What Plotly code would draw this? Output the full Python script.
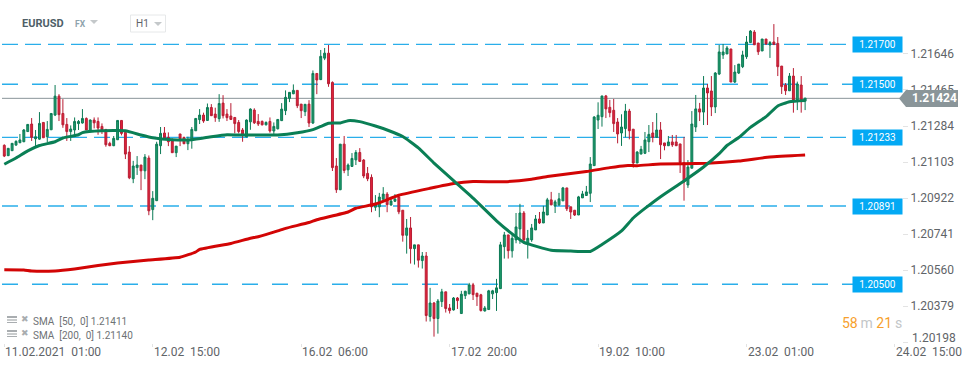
import plotly.graph_objects as go

opens = [1.21187,1.21135,1.21160,1.21188,1.21200,1.21205,1.21256,1.21294,1.21220,1.21218,
1.21302,1.21230,1.21265,1.21339,1.21434,1.21347,1.21292,1.21256,1.21264,1.21296,
1.21299,1.21322,1.21256,1.21314,1.21307,1.21282,1.21267,1.21197,1.21185,1.21215,
1.21312,1.21252,1.21153,1.21019,1.21075,1.21088,1.21059,1.21123,1.20864,1.20909,
1.21185,1.21249,1.21227,1.21209,1.21150,1.21244,1.21227,1.21195,1.21212,1.21260,
1.21316,1.21339,1.21312,1.21377,1.21344,1.21321,1.21399,1.21344,1.21334,1.21327,
1.21302,1.21264,1.21230,1.21305,1.21364,1.21307,1.21307,1.21290,1.21307,1.21259,
1.21270,1.21311,1.21361,1.21423,1.21446,1.21463,1.21394,1.21356,1.21394,1.21299,
1.21548,1.21517,1.21625,1.21650,1.21503,1.21083,1.20964,1.21193,1.21064,1.21081,
1.21114,1.21151,1.21113,1.21046,1.21026,1.20876,1.20878,1.20916,1.20942,1.20887,
1.20906,1.20927,1.20861,1.20735,1.20772,1.20668,1.20687,1.20608,1.20631,1.20327,
1.20395,1.20317,1.20402,1.20451,1.20370,1.20360,1.20420,1.20342,1.20432,1.20441,
1.20486,1.20444,1.20436,1.20355,1.20362,1.20441,1.20447,1.20467,1.20678,1.20737,
1.20657,1.20712,1.20767,1.20847,1.20692,1.20712,1.20762,1.20817,1.20797,1.20837,
1.20913,1.20883,1.20888,1.20908,1.20973,1.20878,1.20861,1.20837,1.20923,1.20935,
1.20946,1.21085,1.21314,1.21331,1.21435,1.21378,1.21363,1.21304,1.21249,1.21271,
1.21359,1.21268,1.21098,1.21143,1.21147,1.21205,1.21249,1.21227,1.21264,1.21199,
1.21185,1.21204,1.21204,1.21194,1.21100,1.20988,1.21072,1.21279,1.21370,1.21354,
1.21475,1.21460,1.21380,1.21545,1.21641,1.21646,1.21671,1.21505,1.21550,1.21582,
1.21632,1.21703,1.21756,1.21701,1.21661,1.21721,1.21691,1.21706,1.21699,1.21585,
1.21490,1.21461,1.21535,1.21415,1.21490,1.21409]

highs = [1.21192,1.21172,1.21197,1.21212,1.21244,1.21269,1.21294,1.21324,1.21264,1.21354,
1.21302,1.21309,1.21347,1.21490,1.21444,1.21419,1.21324,1.21287,1.21327,1.21314,
1.21369,1.21327,1.21317,1.21327,1.21327,1.21297,1.21267,1.21205,1.21234,1.21312,
1.21312,1.21256,1.21183,1.21109,1.21133,1.21088,1.21143,1.21136,1.20957,1.21205,
1.21279,1.21279,1.21252,1.21222,1.21183,1.21244,1.21230,1.21230,1.21279,1.21324,
1.21369,1.21351,1.21397,1.21394,1.21376,1.21444,1.21439,1.21369,1.21399,1.21327,
1.21314,1.21274,1.21317,1.21373,1.21373,1.21344,1.21312,1.21307,1.21327,1.21302,
1.21319,1.21399,1.21463,1.21453,1.21493,1.21463,1.21394,1.21394,1.21414,1.21563,
1.21548,1.21666,1.21676,1.21691,1.21508,1.21123,1.21193,1.21234,1.21096,1.21148,
1.21163,1.21173,1.21118,1.21078,1.21041,1.20937,1.20948,1.20977,1.20952,1.20927,
1.20942,1.20937,1.20861,1.20817,1.20827,1.20687,1.20687,1.20651,1.20651,1.20471,
1.20400,1.20415,1.20466,1.20451,1.20390,1.20425,1.20425,1.20456,1.20456,1.20496,
1.20496,1.20446,1.20441,1.20380,1.20461,1.20461,1.20516,1.20702,1.20752,1.20737,
1.20737,1.20847,1.20893,1.20857,1.20762,1.20792,1.20837,1.20852,1.20883,1.20923,
1.20953,1.20913,1.20948,1.20978,1.20973,1.20878,1.20861,1.20933,1.20958,1.20983,
1.21128,1.21334,1.21403,1.21435,1.21440,1.21415,1.21420,1.21324,1.21343,1.21395,
1.21370,1.21268,1.21158,1.21184,1.21254,1.21289,1.21304,1.21349,1.21304,1.21199,
1.21234,1.21239,1.21239,1.21194,1.21229,1.21113,1.21359,1.21440,1.21400,1.21535,
1.21495,1.21535,1.21555,1.21691,1.21696,1.21686,1.21671,1.21590,1.21595,1.21662,
1.21736,1.21766,1.21766,1.21701,1.21721,1.21721,1.21711,1.21796,1.21731,1.21585,
1.21500,1.21550,1.21575,1.21507,1.21535,1.21425]

lows = [1.21128,1.21133,1.21160,1.21185,1.21198,1.21203,1.21254,1.21209,1.21180,1.21215,
1.21225,1.21202,1.21265,1.21334,1.21309,1.21275,1.21209,1.21209,1.21239,1.21264,
1.21296,1.21264,1.21254,1.21272,1.21240,1.21244,1.21180,1.21183,1.21183,1.21214,
1.21237,1.21118,1.21017,1.20997,1.21038,1.20962,1.21017,1.20836,1.20811,1.20907,
1.21143,1.21214,1.21183,1.21150,1.21128,1.21183,1.21193,1.21163,1.21170,1.21259,
1.21294,1.21300,1.21311,1.21334,1.21305,1.21305,1.21322,1.21309,1.21314,1.21247,
1.21247,1.21205,1.21227,1.21265,1.21294,1.21284,1.21287,1.21287,1.21250,1.21244,
1.21267,1.21309,1.21339,1.21404,1.21444,1.21374,1.21324,1.21334,1.21279,1.21294,
1.21444,1.21515,1.21615,1.21481,1.21058,1.20948,1.20962,1.21047,1.21033,1.21079,
1.21088,1.21103,1.21022,1.21007,1.20851,1.20858,1.20826,1.20914,1.20851,1.20884,
1.20902,1.20841,1.20703,1.20643,1.20593,1.20588,1.20573,1.20568,1.20302,1.20302,
1.20226,1.20241,1.20375,1.20347,1.20342,1.20357,1.20365,1.20342,1.20415,1.20439,
1.20410,1.20380,1.20352,1.20352,1.20362,1.20415,1.20355,1.20467,1.20618,1.20618,
1.20623,1.20695,1.20692,1.20692,1.20618,1.20702,1.20762,1.20792,1.20797,1.20837,
1.20886,1.20847,1.20883,1.20908,1.20857,1.20817,1.20832,1.20837,1.20923,1.20933,
1.20902,1.21085,1.21269,1.21281,1.21324,1.21328,1.21254,1.21197,1.21184,1.21227,
1.21217,1.21075,1.21098,1.21143,1.21143,1.21153,1.21202,1.21225,1.21118,1.21162,
1.21184,1.21179,1.21184,1.21048,1.20909,1.20973,1.21072,1.21254,1.21309,1.21289,
1.21289,1.21334,1.21349,1.21540,1.21621,1.21646,1.21505,1.21500,1.21545,1.21575,
1.21621,1.21701,1.21691,1.21641,1.21661,1.21691,1.21626,1.21691,1.21535,1.21445,
1.21440,1.21460,1.21351,1.21364,1.21351,1.21364]

closes = [1.21133,1.21172,1.21197,1.21207,1.21214,1.21264,1.21292,1.21227,1.21230,1.21297,
1.21225,1.21267,1.21347,1.21434,1.21341,1.21290,1.21256,1.21269,1.21307,1.21307,
1.21322,1.21264,1.21314,1.21300,1.21274,1.21264,1.21190,1.21185,1.21222,1.21312,
1.21247,1.21143,1.21024,1.21083,1.21088,1.21059,1.21128,1.20858,1.20921,1.21193,
1.21247,1.21225,1.21205,1.21150,1.21183,1.21220,1.21195,1.21214,1.21267,1.21322,
1.21339,1.21309,1.21377,1.21336,1.21326,1.21397,1.21336,1.21326,1.21317,1.21296,
1.21256,1.21237,1.21314,1.21369,1.21300,1.21294,1.21290,1.21302,1.21259,1.21282,
1.21317,1.21369,1.21428,1.21453,1.21463,1.21386,1.21361,1.21393,1.21299,1.21548,
1.21515,1.21634,1.21650,1.21496,1.21075,1.20964,1.21193,1.21061,1.21088,1.21121,
1.21151,1.21106,1.21033,1.21019,1.20878,1.20892,1.20927,1.20942,1.20889,1.20907,
1.20917,1.20853,1.20735,1.20772,1.20668,1.20687,1.20610,1.20631,1.20332,1.20395,
1.20317,1.20405,1.20451,1.20367,1.20357,1.20420,1.20407,1.20439,1.20454,1.20486,
1.20437,1.20427,1.20357,1.20370,1.20456,1.20456,1.20471,1.20687,1.20737,1.20658,
1.20720,1.20777,1.20847,1.20712,1.20720,1.20772,1.20817,1.20797,1.20852,1.20913,
1.20888,1.20903,1.20918,1.20973,1.20868,1.20852,1.20837,1.20928,1.20943,1.20953,
1.21093,1.21329,1.21338,1.21435,1.21370,1.21351,1.21296,1.21244,1.21279,1.21359,
1.21260,1.21098,1.21153,1.21167,1.21214,1.21242,1.21227,1.21264,1.21190,1.21185,
1.21204,1.21189,1.21185,1.21100,1.21003,1.21078,1.21294,1.21370,1.21354,1.21475,
1.21450,1.21380,1.21550,1.21656,1.21656,1.21676,1.21505,1.21555,1.21595,1.21641,
1.21706,1.21761,1.21692,1.21657,1.21721,1.21696,1.21703,1.21693,1.21582,1.21482,
1.21461,1.21535,1.21415,1.21495,1.21415,1.21424]

sma50_x = [0,3,6,9,13,15,19,20,25,31,35,38,43,48,53,57,60,70,75,79,81,83,86,88,91,95,98,102,106,110,115,120,
           126,130,133,140,145,150,153,158,161,164,168,174,179,183,185,188,191,195,198,201,205]
sma50_y = [1.21092,1.21123,1.21159,1.21186,1.21205,1.21224,1.21240,1.21251,1.21260,1.21260,1.21239,1.21225,
           1.21215,1.21215,1.21230,1.21240,1.21239,1.21239,1.21250,1.21266,1.21282,1.21298,1.21299,1.21311,
           1.21306,1.21284,1.21264,1.21231,1.21174,1.21098,1.21010,1.20922,1.20808,1.20742,1.20699,1.20660,
           1.20656,1.20654,1.20689,1.20757,1.20822,1.20870,1.20929,1.21008,1.21078,1.21145,1.21186,1.21226,
           1.21277,1.21331,1.21385,1.21406,1.21412]

sma200_x = [0,5,7,13,18,24,29,37,45,49,50,58,63,65,70,72,78,80,88,90,95,101,109,115,120,128,135,139,149,155,159,162,
            168,180,188,196,205]
sma200_y = [1.20562,1.20561,1.20556,1.20556,1.20566,1.20583,1.20596,1.20611,1.20625,1.20651,1.20664,1.20694,
            1.20720,1.20728,1.20757,
            1.20770,1.20799,1.20813,1.20852,1.20871,1.20892,1.20936,1.20971,1.20995,1.21005,1.21004,1.21017,
            1.21030,1.21055,1.21075,1.21085,1.21085,1.21093,1.21097,1.21108,1.21128,1.21138]

level_values = [1.21694,1.21494,1.21227,1.20882,1.20489]
level_labels = ["1.21700","1.21500","1.21233","1.20891","1.20500"]
level_dashes = ["16px,7px","16px,14px","16px,7px","16px,7px","16px,14px"]

last_price_y = 1.21423
last_price_label = "1.21424"

y_tick_values = [1.21646,1.21465,1.21284,1.21103,1.20922,1.20741,1.20560,1.20379,1.20198]
y_tick_labels = ["1.21646","1.21465","1.21284","1.21103","1.20922","1.20741","1.20560","1.20379",""]
bottom_price_label = "1.20198"

x_tick_values = [0,38,76,114,152,190,228]
x_tick_labels = ["11.02.2021\u00a0\u00a001:00","12.02\u00a0\u00a015:00","16.02\u00a0\u00a006:00",
                 "17.02\u00a0\u00a020:00","19.02\u00a0\u00a010:00","23.02\u00a0\u00a001:00","24.02\u00a0\u00a015:00"]

W, H = 970, 368
PLOT_R, PLOT_B = 902, 343
def px(v): return v / PLOT_R
def py(v): return 1 - v / PLOT_B

FONT = "Roboto"
TEXT = "#5f6468"

fig = go.Figure()
fig.add_trace(go.Candlestick(
    x=list(range(len(opens))), open=opens, high=highs, low=lows, close=closes,
    increasing=dict(line=dict(color="#0b7a55", width=1), fillcolor="#1f9a6a"),
    decreasing=dict(line=dict(color="#b81d33", width=1), fillcolor="#e0243c"),
    whiskerwidth=0, hoverinfo="skip", showlegend=False))
fig.add_trace(go.Scatter(x=sma200_x, y=sma200_y, mode="lines", showlegend=False, hoverinfo="skip",
                         line=dict(color="#d20505", width=3, shape="spline", smoothing=0.4)))
fig.add_trace(go.Scatter(x=sma50_x, y=sma50_y, mode="lines", showlegend=False, hoverinfo="skip",
                         line=dict(color="#0a7f55", width=3, shape="spline", smoothing=0.4)))

shapes, ann = [], []
for val, dash in zip(level_values, level_dashes):
    shapes.append(dict(type="line", layer="below", xref="paper", yref="y", x0=px(2), x1=px(853), y0=val, y1=val,
                       line=dict(color="#2aaeea", width=1.4, dash=dash)))
for val, lab in zip(level_values, level_labels):
    ann.append(dict(xref="paper", yref="y", x=px(877.5), y=val, xanchor="center", text=lab, showarrow=False,
                    bgcolor="#03a9f4", width=49, height=15, borderpad=0,
                    font=dict(family=FONT, size=10, color="white")))
shapes.append(dict(type="line", layer="below", xref="paper", yref="y", x0=px(2), x1=px(900),
                   y0=last_price_y, y1=last_price_y, line=dict(color="#8a9499", width=1)))
shapes.append(dict(type="path", layer="above", xref="paper", yref="paper",
                   path=f"M {px(899)} {py(98.5)} L {px(906)} {py(90)} L {px(958)} {py(90)} L {px(958)} {py(107)} L {px(906)} {py(107)} Z",
                   fillcolor="#8a9599", line=dict(width=0)))
ann.append(dict(xref="paper", yref="paper", x=px(911), y=py(98.5), xanchor="left", text=f"<b>{last_price_label}</b>",
                showarrow=False, borderpad=0, font=dict(family=FONT, size=12, color="white")))
ann.append(dict(xref="paper", yref="paper", x=px(911), y=py(337.5), xanchor="left", text=bottom_price_label,
                showarrow=False, borderpad=0, font=dict(family=FONT, size=12, color=TEXT)))

for v, lab in zip(x_tick_values, x_tick_labels):
    ann.append(dict(xref="x", yref="paper", x=v, y=py(351.5), xanchor="left", xshift=0, text=lab, showarrow=False,
                    borderpad=0, font=dict(family=FONT, size=12, color=TEXT)))

# header
ann.append(dict(xref="paper", yref="paper", x=px(21), y=py(23), xanchor="left", text="<b>EURUSD</b>", showarrow=False,
                borderpad=0, font=dict(family=FONT, size=11, color="#4f5f68")))
ann.append(dict(xref="paper", yref="paper", x=px(74), y=py(24), xanchor="left", text="<b>FX</b>", showarrow=False,
                borderpad=0, font=dict(family=FONT, size=8.5, color="#8fa3ad")))
ann.append(dict(xref="paper", yref="paper", x=px(135), y=py(23.5), xanchor="left", text="H1", showarrow=False,
                borderpad=0, font=dict(family=FONT, size=10, color="#5f6468")))
shapes.append(dict(type="path", xref="paper", yref="paper", path=f"M {px(90)} {py(20)} L {px(98)} {py(20)} L {px(94)} {py(24)} Z",
                   fillcolor="#c4c8ca", line=dict(width=0)))
shapes.append(dict(type="path", xref="paper", yref="paper", path=f"M {px(154)} {py(22)} L {px(162)} {py(22)} L {px(158)} {py(26)} Z",
                   fillcolor="#c4c8ca", line=dict(width=0)))
shapes.append(dict(type="rect", xref="paper", yref="paper", x0=px(130.5), x1=px(165.5), y0=py(15), y1=py(32),
                   line=dict(color="#e6e8e9", width=1), fillcolor="rgba(0,0,0,0)"))

# legend
for row_y, txt in [(321, "SMA\u00a0\u00a0[50,\u00a0\u00a00]\u00a01.21411"), (335, "SMA\u00a0\u00a0[200,\u00a0\u00a00]\u00a01.21140")]:
    ann.append(dict(xref="paper", yref="paper", x=px(32), y=py(row_y), xanchor="left", text=txt, showarrow=False,
                    borderpad=0, font=dict(family=FONT, size=10, color="#6e7275")))
    ann.append(dict(xref="paper", yref="paper", x=px(20), y=py(row_y - 2), xanchor="left", text="\u2716", showarrow=False,
                    borderpad=0, font=dict(family="DejaVu Sans", size=9, color="#a9adb0")))
    shapes.append(dict(type="rect", xref="paper", yref="paper", x0=px(7), x1=px(17), y0=py(row_y - 5), y1=py(row_y - 3),
                       fillcolor="#a9adb0", line=dict(width=0)))
    shapes.append(dict(type="rect", xref="paper", yref="paper", x0=px(7), x1=px(17), y0=py(row_y - 2), y1=py(row_y),
                       fillcolor="#c9cccd", line=dict(width=0)))
    shapes.append(dict(type="rect", xref="paper", yref="paper", x0=px(7), x1=px(17), y0=py(row_y + 1), y1=py(row_y + 2),
                       fillcolor="#a9adb0", line=dict(width=0)))

# countdown
ann.append(dict(xref="paper", yref="paper", x=px(902.5), y=py(323), xanchor="right", showarrow=False, borderpad=0,
                text='<span style="color:#f7a02c">58</span><span style="color:#c3c6c8">\u2009m\u00a0</span>'
                     '<span style="color:#f7a02c">21</span><span style="color:#c3c6c8">\u2009s</span>',
                font=dict(family=FONT, size=14)))

for a in ann:
    a["yanchor"] = "middle"

fig.update_layout(
    width=W, height=H, autosize=False,
    margin=dict(l=0, r=W - PLOT_R, t=0, b=H - PLOT_B),
    paper_bgcolor="white", plot_bgcolor="white", boxgap=0.3,
    font=dict(family=FONT),
    xaxis=dict(range=[-1.1, 229.8], rangeslider=dict(visible=False), showgrid=False, zeroline=False, showline=False,
               tickmode="array", tickvals=x_tick_values, showticklabels=False, ticks="outside", ticklen=3,
               tickcolor="#e3e3e3", fixedrange=True),
    yaxis=dict(range=[1.20194, 1.21917], side="right", showgrid=False, zeroline=False, showline=False,
               tickmode="array", tickvals=y_tick_values, ticktext=y_tick_labels, ticks="outside", ticklen=5,
               tickcolor="#e3e3e3", tickfont=dict(family=FONT, size=12, color=TEXT), fixedrange=True),
    shapes=shapes, annotations=ann, hovermode=False)

fig.write_html("out.html", config=dict(displayModeBar=False),
               post_script="document.body.style.margin='0';document.body.style.overflow='hidden';")
